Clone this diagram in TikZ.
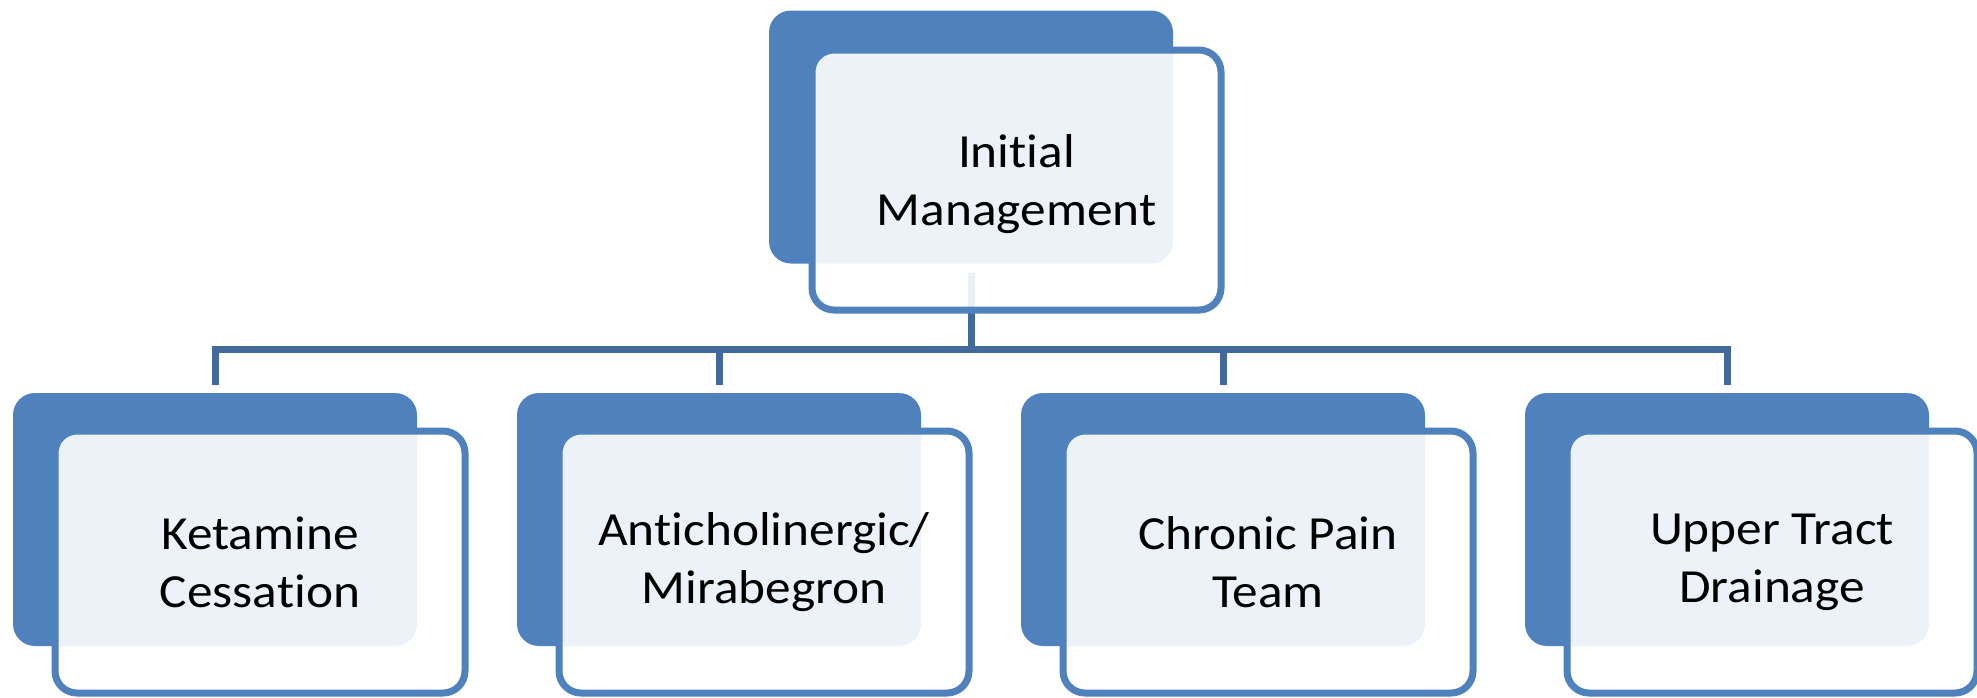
\documentclass[tikz,border=0pt]{standalone}
\usepackage{fontspec}
\setmainfont{Carlito}[RawFeature={-liga,-clig,-dlig}]
\usepackage{graphicx}
\usetikzlibrary{backgrounds,calc}
\definecolor{accent}{HTML}{4F81BD}
\definecolor{linkblue}{HTML}{41699B}
% slightly widened lettering
\newcommand\sx[1]{\scalebox{1.08}[1]{#1}}
\begin{document}
\begin{tikzpicture}[x=0.5pt,y=-0.5pt,
  backbox/.style={fill=accent, rounded corners=11pt, minimum width=202pt,
    minimum height=126.5pt, inner sep=0pt, outer sep=0pt},
  frontbox/.style={draw=accent, line width=3.5pt, fill=white, fill opacity=0.9,
    text opacity=1, rounded corners=11pt, minimum width=205pt,
    minimum height=131pt, inner sep=0pt, outer sep=0pt, align=center,
    font=\fontsize{23.75pt}{29pt}\selectfont},
  conn/.style={draw=linkblue, line width=3.5pt, line join=miter}]
\useasboundingbox (0,0) rectangle (1977,697);

% root
\node[backbox] (tb) at (971,137) {};
\node[frontbox, minimum width=204.5pt, minimum height=130pt] (tf) at (1016.5,180) {};
\node[align=center, inner sep=0pt, font=\fontsize{23.75pt}{29pt}\selectfont]
  at ($(tf.center)+(0,4)$) {\sx{Initial}\\\sx{Management}};

% children
\node[backbox] (b1) at (215,519.5) {};
\node[frontbox] (f1) at (260,562) {\sx{Ketamine}\\\sx{Cessation}};
\node[backbox] (b2) at (719,519.5) {};
\node[frontbox] (f2) at (764,562) {\sx{Anticholinergic/}\\\sx{Mirabegron}};
\node[backbox] (b3) at (1223,519.5) {};
\node[frontbox] (f3) at (1268,562) {\sx{Chronic Pain}\\\sx{Team}};
\node[backbox] (b4) at (1727,519.5) {};
\node[frontbox] (f4) at (1772,562) {\sx{Upper Tract}\\\sx{Drainage}};

% connectors, behind the boxes
\begin{scope}[on background layer]
  \coordinate (bus) at (971,349.5);
  \draw[conn] ($(tb.south)+(0,9)$) -- (bus);
  \draw[conn] ($(b1.north)+(0,-8)$) |- (bus -| b4.north) -- ($(b4.north)+(0,-8)$);
  \draw[conn] (bus -| b2.north) -- ($(b2.north)+(0,-8)$);
  \draw[conn] (bus -| b3.north) -- ($(b3.north)+(0,-8)$);
\end{scope}
\end{tikzpicture}
\end{document}
